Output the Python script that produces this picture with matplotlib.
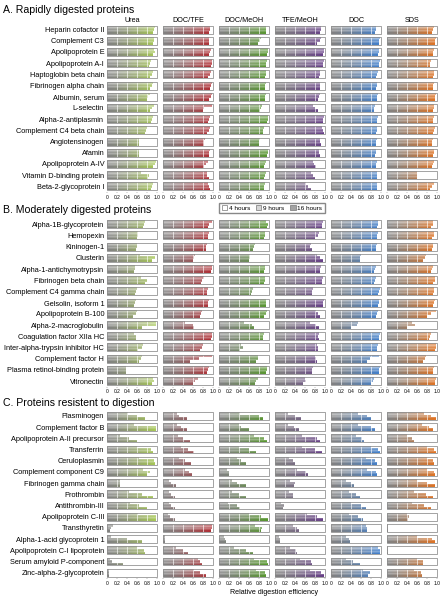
import numpy as np
import matplotlib
matplotlib.use('Agg')
import matplotlib.pyplot as plt
from matplotlib.colors import to_rgb
from matplotlib.patches import Rectangle, Patch
from matplotlib.path import Path

plt.rcParams['font.family'] = ['Liberation Sans', 'DejaVu Sans']

methods = ['Urea', 'DOC/TFE', 'DOC/MeOH', 'TFE/MeOH', 'DOC', 'SDS']
method_colors = ['#a9cb55', '#b42a30', '#56992a', '#663c88', '#3f80d0', '#e5731f']
time_labels = ['4 hours', '9 hours', '16 hours']
xticks = [0, 0.2, 0.4, 0.6, 0.8, 1.0]
xtick_labels = ['0', '0.2', '0.4', '0.6', '0.8', '1.0']

# ---- A. rapidly digested ----
rapid_names = ['Heparin cofactor II', 'Complement C3', 'Apolipoprotein E', 'Apolipoprotein A-I',
               'Haptoglobin beta chain', 'Fibrinogen alpha chain', 'Albumin, serum', 'L-selectin',
               'Alpha-2-antiplasmin', 'Complement C4 beta chain', 'Angiotensinogen', 'Afamin',
               'Apolipoprotein A-IV', 'Vitamin D-binding protein', 'Beta-2-glycoprotein I']
# (4h, 9h, 16h) per protein
rapid_urea = [(.96,.95,.93),(.95,.94,.92),(.95,.96,.92),(.88,.86,.84),(.92,.90,.86),(.93,.90,.87),(.86,.82,.80),
              (.94,.90,.86),(.93,.90,.88),(.80,.78,.76),(.65,.65,.64),(.65,.64,.64),(.98,.96,.93),(.68,.85,.82),(.92,.90,.88)]
rapid_doc_tfe = [(.94,.95,.93),(.93,.93,.92),(.96,.95,.93),(.99,.98,.96),(.96,.94,.90),(.99,.97,.94),(.98,.96,.93),
                 (.99,.82,.80),(.95,.93,.90),(.95,.92,.88),(.84,.83,.82),(.94,.93,.92),(.90,.86,.82),(.88,.88,.92),(.90,.93,.95)]
rapid_doc_meoh = [(.95,.95,.94),(.85,.82,.78),(.99,.98,.96),(.96,.95,.94),(.95,.94,.93),(.94,.93,.92),(.94,.93,.92),
                  (.86,.85,.82),(.99,.98,.96),(.90,.89,.88),(.82,.81,.80),(.99,.98,.97),(.94,.92,.90),(.94,.92,.90),(.92,.91,.90)]
rapid_tfe_meoh = [(.93,.92,.90),(.92,.90,.84),(.99,.98,.97),(.98,.97,.96),(.90,.91,.88),(.91,.90,.90),(.90,.88,.86),
                  (.76,.80,.86),(.98,.97,.96),(.95,.97,.98),(.90,.90,.92),(.88,.88,.90),(.76,.78,.82),(.72,.76,.80),(.62,.66,.72)]
rapid_doc = [(.90,.90,.88),(.98,.97,.96),(.97,.96,.94),(.98,.97,.96),(.94,.92,.90),(.93,.92,.90),(.94,.93,.92),
             (.88,.87,.86),(.94,.93,.92),(.93,.92,.90),(.92,.91,.90),(.91,.90,.88),(.92,.91,.90),(.93,.92,.92),(.92,.92,.92)]
rapid_sds = [(.95,.93,.90),(.98,.97,.96),(.94,.93,.92),(.88,.87,.86),(.95,.94,.92),(.94,.93,.92),(.98,.97,.96),
             (.95,.94,.93),(.94,.93,.92),(.96,.95,.93),(.92,.91,.90),(.95,.94,.92),(.94,.92,.90),(.61,.61,.60),(.94,.90,.86)]

# ---- B. moderately digested ----
moderate_names = ['Alpha-1B-glycoprotein', 'Hemopexin', 'Kininogen-1', 'Clusterin', 'Alpha-1-antichymotrypsin',
                  'Fibrinogen beta chain', 'Complement C4 gamma chain', 'Gelsolin, isoform 1', 'Apolipoprotein B-100',
                  'Alpha-2-macroglobulin', 'Coagulation factor XIIa HC', 'Inter-alpha-trypsin inhibitor HC',
                  'Complement factor H', 'Plasma retinol-binding protein', 'Vitronectin']
moderate_urea = [(.77,.74,.72),(.63,.62,.60),(.61,.60,.58),(.66,.96,.90),(.56,.56,.55),(.68,.80,.76),(.60,.58,.56),
                 (.58,.57,.55),(.60,.58,.52),(.99,.98,.70),(.55,.59,.58),(.72,.70,.62),(.70,.68,.64),(.38,.38,.37),(.92,.95,.90)]
moderate_doc_tfe = [(.99,.93,.90),(.92,.91,.90),(.88,.87,.86),(.64,.63,.60),(.99,.98,.96),(.82,.78,.76),(.90,.89,.88),
                    (.92,.91,.90),(.78,.76,.74),(.45,.60,.62),(.99,.98,.96),(.80,.78,.74),(.99,.72,.55),(.92,.90,.88),(.70,.65,.60)]
moderate_doc_meoh = [(.95,.99,.96),(.93,.92,.90),(.72,.70,.68),(.62,.62,.60),(.93,.92,.90),(.93,.92,.90),(.68,.66,.64),
                     (.95,.94,.94),(.96,.95,.90),(.50,.66,.70),(.90,.89,.88),(.45,.48,.42),(.79,.78,.74),(.97,.96,.94),(.78,.75,.72)]
moderate_tfe_meoh = [(.96,.95,.94),(.88,.87,.80),(.72,.70,.74),(.84,.90,.96),(.92,.91,.90),(.96,.95,.94),(.76,.75,.74),
                     (.98,.97,.96),(.82,.86,.90),(.70,.82,.88),(.88,.86,.88),(.84,.86,.86),(.80,.82,.84),(.76,.75,.74),(.60,.62,.56)]
moderate_doc = [(.95,.94,.92),(.94,.93,.92),(.92,.91,.90),(.60,.59,.58),(.90,.88,.86),(.90,.88,.86),(.98,.97,.95),
                (.97,.96,.94),(.95,.93,.90),(.55,.52,.40),(.98,.97,.96),(.94,.93,.92),(.97,.78,.72),(.98,.97,.96),(.86,.85,.80)]
moderate_sds = [(.93,.92,.88),(.94,.95,.90),(.93,.92,.90),(.78,.76,.72),(.93,.91,.89),(.97,.96,.92),(.95,.94,.92),
                (.96,.95,.93),(.99,.88,.80),(.50,.56,.40),(.88,.86,.84),(.99,.98,.97),(.78,.76,.72),(.94,.93,.92),(.99,.97,.96)]

# ---- C. resistant ----
resistant_names = ['Plasminogen', 'Complement factor B', 'Apolipoprotein A-II precursor', 'Transferrin',
                   'Ceruloplasmin', 'Complement component C9', 'Fibrinogen gamma chain', 'Prothrombin',
                   'Antithrombin-III', 'Apolipoprotein C-III', 'Transthyretin', 'Alpha-1-acid glycoprotein 1',
                   'Apolipoprotein C-I lipoprotein', 'Serum amyloid P-component', 'Zinc-alpha-2-glycoprotein']
resistant_urea = [(.43,.60,.76),(.55,.98,.99),(.26,.45,.60),(.60,.88,.93),(.65,.95,.97),(.72,.86,.80),(.26,.26,.25),
                  (.45,.70,.92),(.46,.65,.80),(.62,.98,.99),(.12,.08,.06),(.08,.40,.70),(.60,.75,.76),(.05,.10,.32),(.04,.04,.03)]
resistant_doc_tfe = [(.28,.32,.48),(.28,.35,.48),(.30,.40,.54),(.35,.50,.62),(.32,.45,.56),(.45,.52,.58),(.12,.15,.26),
                     (.12,.16,.24),(.12,.16,.24),(.10,.14,.24),(.99,.98,.97),(.03,.04,.04),(.25,.40,.50),(.70,.75,.78),(.62,.75,.86)]
resistant_doc_meoh = [(.43,.80,.88),(.40,.45,.60),(.70,.90,.96),(.40,.60,.74),(.35,.45,.55),(.15,.20,.20),(.25,.35,.54),
                      (.25,.40,.54),(.18,.35,.42),(.60,.85,.98),(.72,.86,.85),(.10,.12,.13),(.30,.55,.68),(.70,.96,.99),(.75,.92,.95)]
resistant_tfe_meoh = [(.25,.40,.52),(.25,.38,.48),(.55,.85,.90),(.55,.80,.95),(.28,.35,.40),(.45,.62,.66),(.30,.40,.38),
                      (.28,.35,.36),(.12,.18,.15),(.65,.85,.97),(.35,.45,.48),(.08,.10,.09),(.30,.42,.44),(.50,.72,.74),(.70,.92,.99)]
resistant_doc = [(.55,.72,.80),(.55,.80,.88),(.50,.62,.66),(.80,.95,.98),(.70,.88,.92),(.72,.90,.92),(.30,.40,.46),
                 (.35,.50,.58),(.40,.60,.70),(.35,.55,.65),(.70,.72,.72),(.30,.36,.38),(.95,.98,.99),(.30,.45,.58),(.65,.78,.75)]
resistant_sds = [(.75,.88,.98),(.70,.85,.92),(.40,.50,.55),(.80,.95,.98),(.80,.92,.95),(.80,.94,.97),(.60,.80,.97),
                 (.55,.78,.93),(.50,.75,.88),(.40,.45,.42),(.02,.02,.02),(.60,.90,.97),(.01,.01,.01),(.60,.72,.72),(.55,.68,.70)]

sections = [
    ('A. Rapidly digested proteins', rapid_names,
     [rapid_urea, rapid_doc_tfe, rapid_doc_meoh, rapid_tfe_meoh, rapid_doc, rapid_sds], 24.0, 10),
    ('B. Moderately digested proteins', moderate_names,
     [moderate_urea, moderate_doc_tfe, moderate_doc_meoh, moderate_tfe_meoh, moderate_doc, moderate_sds], 218.6, 210),
    ('C. Proteins resistent to digestion', resistant_names,
     [resistant_urea, resistant_doc_tfe, resistant_doc_meoh, resistant_tfe_meoh, resistant_doc, resistant_sds], 410.3, 403),
]

W, H = 443, 599
fig = plt.figure(figsize=(W / 100, H / 100), dpi=100)


def px_axes(left, top, width, height):
    return fig.add_axes([left / W, 1 - (top + height) / H, width / W, height / H])


box_pad = 0.15
box_h = 0.7
sub_h = box_h / 3
lighten = [0.38, 0.18, 0.0]
gray0 = np.array(to_rgb('#828282'))

for title, names, data, top, title_y in sections:
    fig.text(3 / W, 1 - title_y / H, title, fontsize=7.6, va='center', ha='left')
    n = len(names)
    rows = np.arange(n)
    for j, m in enumerate(methods):
        ax = px_axes(107.3 + 56 * j, top, 49.3, 168)
        vals = np.array(data[j])
        c1 = np.array(to_rgb(method_colors[j]))
        t = np.linspace(0, 1, 256)[:, None] ** 1.3
        base = gray0 * (1 - t) + c1 * t
        for k in range(3):
            grad = base * (1 - lighten[k]) + lighten[k]
            y = rows + box_pad + k * sub_h + sub_h / 2
            bars = ax.barh(y, vals[:, k], height=sub_h, color='none', edgecolor='none')
            path = Path.make_compound_path(*[b.get_path().transformed(b.get_patch_transform()) for b in bars])
            im = ax.imshow(grad[None, :, :], extent=[0, 1, n, 0], aspect='auto', zorder=2,
                           interpolation='bilinear')
            im.set_clip_path(path, ax.transData)
        # white separators between the time bars and the 0.2 grid
        for k in (1, 2):
            ax.hlines(rows + box_pad + k * sub_h, 0, 1, color='white', lw=0.25, zorder=3)
        for xg in xticks[1:-1]:
            ax.vlines(np.full(n, xg), rows + box_pad, rows + box_pad + box_h, color='white', lw=0.45, zorder=3)
        for i in range(n):
            ax.add_patch(Rectangle((0, i + box_pad), 1, box_h, fill=False, ec='#8a8a8a', lw=0.55,
                                   zorder=4, clip_on=False))
        ax.set_xlim(0, 1)
        ax.set_ylim(n, 0)
        for sp in ax.spines.values():
            sp.set_visible(False)
        ax.set_xticks(xticks)
        ax.set_xticklabels(xtick_labels)
        ax.tick_params(axis='x', length=1.0, width=0.3, pad=0.8, labelsize=3.5, color='#666666')
        ax.set_yticks(rows + 0.5)
        if j == 0:
            ax.set_yticklabels(names)
        else:
            ax.set_yticklabels([])
        ax.tick_params(axis='y', length=0, pad=2.2, labelsize=5.3)
        if top < 100:
            ax.set_title(m, fontsize=5.2, pad=1.6)

handles = [Patch(facecolor='white', edgecolor='#777777', lw=0.5),
           Patch(facecolor='#d6d6d6', edgecolor='#777777', lw=0.5),
           Patch(facecolor='#a3a3a3', edgecolor='#777777', lw=0.5)]
fig.legend(handles, time_labels, loc='center', bbox_to_anchor=(272 / W, 1 - 208 / H), ncol=3,
           fontsize=4.6, frameon=True, fancybox=False, edgecolor='#888888', framealpha=1,
           handlelength=0.9, handleheight=0.9, columnspacing=0.8, handletextpad=0.3, borderpad=0.35)

fig.text(274 / W, 1 - 592 / H, 'Relative digestion efficiency', fontsize=5.1, ha='center', va='center')

fig.savefig('out.png', dpi=100)
